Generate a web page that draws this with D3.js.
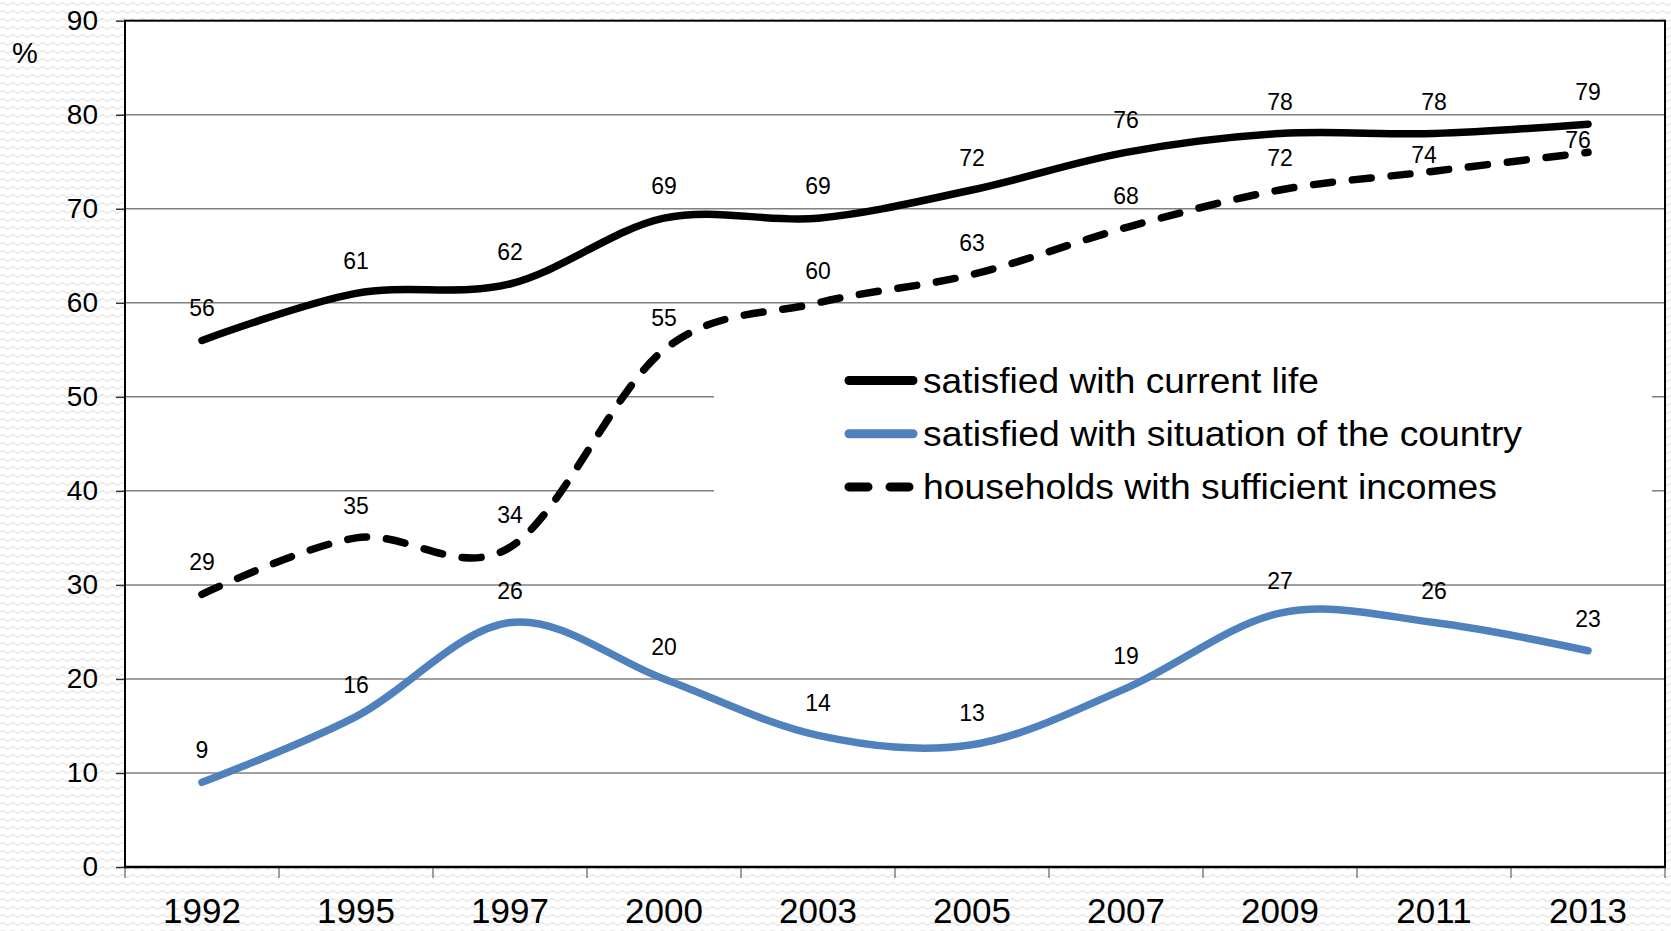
<!DOCTYPE html>
<html>
<head>
<meta charset="utf-8">
<script src="https://cdn.jsdelivr.net/npm/d3@7"></script>
<style>
  html, body { margin: 0; padding: 0; background: #fff; }
  svg { display: block; font-family: "Liberation Sans", Arial, sans-serif; }
</style>
</head>
<body>
<svg id="chart" width="1671" height="931"></svg>
<script>
// Survey years and the three series (percent)
const years = ["1992", "1995", "1997", "2000", "2003", "2005", "2007", "2009", "2011", "2013"];
const satisfiedLife = [56, 61, 62, 69, 69, 72, 76, 78, 78, 79];
const satisfiedCountry = [9, 16, 26, 20, 14, 13, 19, 27, 26, 23];
const sufficientIncomes = [29, 35, 34, 55, 60, 63, 68, 72, 74, 76];
const yTicks = [0, 10, 20, 30, 40, 50, 60, 70, 80, 90];
const seriesNames = [
  "satisfied with current life",
  "satisfied with situation of the country",
  "households with sufficient incomes"
];

const W = 1671, H = 931;
const plot = { left: 125, right: 1665, top: 20.7, bottom: 867 };

const svg = d3.select("#chart");

// Soft wavy texture behind the chart
const defs = svg.append("defs");
const pat = defs.append("pattern")
  .attr("id", "wave").attr("patternUnits", "userSpaceOnUse")
  .attr("width", 10).attr("height", 8);
pat.append("rect").attr("width", 10).attr("height", 8).attr("fill", "#ffffff");
pat.append("path").attr("d", "M0,4 Q2.5,1.5 5,4 T10,4")
  .attr("fill", "none").attr("stroke", "#e6e6e6").attr("stroke-width", 1.2);
svg.append("rect").attr("width", W).attr("height", H).attr("fill", "url(#wave)");

// Scales
const x = d3.scaleBand().domain(years).range([plot.left, plot.right]).padding(0);
const y = d3.scaleLinear().domain([0, 90]).range([plot.bottom, plot.top]);
const cx = d => x(d) + x.bandwidth() / 2;

// Plot area
svg.append("rect")
  .attr("x", plot.left).attr("y", plot.top)
  .attr("width", plot.right - plot.left).attr("height", plot.bottom - plot.top)
  .attr("fill", "#ffffff");

// Gridlines
svg.append("g").selectAll("line").data(yTicks.filter(t => t > 0 && t < 90)).join("line")
  .attr("x1", plot.left).attr("x2", plot.right)
  .attr("y1", d => y(d)).attr("y2", d => y(d))
  .attr("stroke", "#808080").attr("stroke-width", 1.5);

// Legend background hides the gridlines behind it
svg.append("rect")
  .attr("x", 714).attr("y", 330).attr("width", 938).attr("height", 190)
  .attr("fill", "#ffffff");

// Y axis
const yAxis = svg.append("g")
  .attr("transform", `translate(${plot.left},0)`)
  .call(d3.axisLeft(y).tickValues(yTicks).tickSize(9).tickPadding(18).tickFormat(d3.format("d")));
yAxis.select(".domain").remove();
yAxis.selectAll(".tick line").attr("stroke", "#333").attr("stroke-width", 1.5);
yAxis.selectAll(".tick text")
  .attr("font-size", 28).attr("fill", "#000")
  .attr("font-family", "'Liberation Sans', Arial, sans-serif");

// X axis: ticks on category boundaries, labels centered in each band
const xAxisG = svg.append("g").attr("transform", `translate(0,${plot.bottom})`);
const boundaries = years.map(d => x(d)).concat([plot.right]);
xAxisG.selectAll("line.tk").data(boundaries).join("line")
  .attr("class", "tk")
  .attr("x1", d => d).attr("x2", d => d)
  .attr("y1", 0).attr("y2", 11)
  .attr("stroke", "#808080").attr("stroke-width", 1.5);
xAxisG.selectAll("text").data(years).join("text")
  .attr("x", d => cx(d)).attr("y", 56)
  .attr("text-anchor", "middle")
  .attr("font-size", 35).attr("fill", "#000")
  .text(d => d);

// Frame: axes and border
svg.append("rect")
  .attr("x", plot.left).attr("y", plot.top)
  .attr("width", plot.right - plot.left).attr("height", plot.bottom - plot.top)
  .attr("fill", "none").attr("stroke", "#000").attr("stroke-width", 2);
svg.append("line")
  .attr("x1", plot.left - 1).attr("x2", plot.right + 1)
  .attr("y1", plot.bottom).attr("y2", plot.bottom)
  .attr("stroke", "#000").attr("stroke-width", 2.5);

// Unit label
svg.append("text").attr("x", 25).attr("y", 63)
  .attr("text-anchor", "middle").attr("font-size", 29).attr("fill", "#000").text("%");

// Series lines (smoothed)
const line = d3.line()
  .x((d, i) => cx(years[i]))
  .y(d => y(d))
  .curve(d3.curveCardinal.tension(0));

const series = [
  { values: satisfiedLife, color: "#000000", width: 7.5, dash: null },
  { values: satisfiedCountry, color: "#4F81BD", width: 7.5, dash: null },
  { values: sufficientIncomes, color: "#000000", width: 7.5, dash: "19,20" }
];

series.forEach(s => {
  svg.append("path")
    .attr("d", line(s.values))
    .attr("fill", "none")
    .attr("stroke", s.color)
    .attr("stroke-width", s.width)
    .attr("stroke-linecap", "round")
    .attr("stroke-linejoin", "round")
    .attr("stroke-dasharray", s.dash);
});

// Value labels above each point; two income labels are nudged to avoid the lines
const labelNudge = { "2-8": [-10, 16], "2-9": [-10, 20] };
series.forEach((s, si) => {
  svg.append("g").selectAll("text").data(s.values).join("text")
    .attr("x", (d, i) => cx(years[i]) + ((labelNudge[si + "-" + i] || [0, 0])[0]))
    .attr("y", (d, i) => y(d) - 32 + ((labelNudge[si + "-" + i] || [0, 0])[1]))
    .attr("dy", "0.35em")
    .attr("text-anchor", "middle")
    .attr("font-size", 23)
    .attr("fill", "#000")
    .text(d => d);
});

// Legend
const legendTextWidths = [396, 599, 574];
const legend = svg.append("g");
seriesNames.forEach((name, i) => {
  const ly = 380.5 + i * 53.2;
  const s = series[i];
  if (s.dash) {
    legend.append("line")
      .attr("x1", 849).attr("x2", 909).attr("y1", ly).attr("y2", ly)
      .attr("stroke", s.color).attr("stroke-width", 9)
      .attr("stroke-linecap", "round").attr("stroke-dasharray", "19,22");
  } else {
    legend.append("line")
      .attr("x1", 849).attr("x2", 913).attr("y1", ly).attr("y2", ly)
      .attr("stroke", s.color).attr("stroke-width", 9)
      .attr("stroke-linecap", "round");
  }
  legend.append("text")
    .attr("x", 923).attr("y", ly + 12)
    .attr("font-size", 35).attr("fill", "#000")
    .attr("textLength", legendTextWidths[i])
    .attr("lengthAdjust", "spacingAndGlyphs")
    .text(name);
});
</script>
</body>
</html>
